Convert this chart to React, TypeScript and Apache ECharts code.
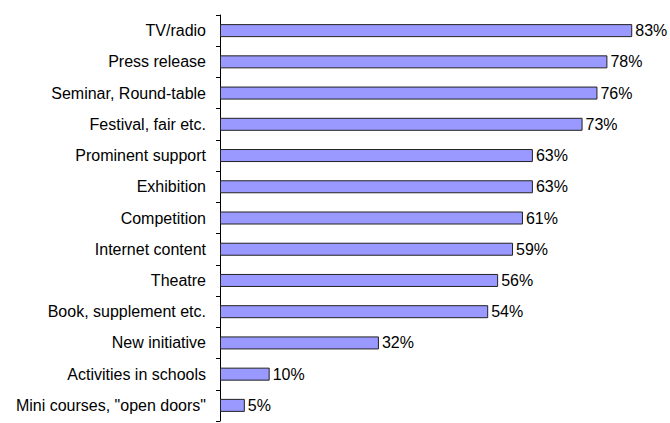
import React, { useEffect, useRef } from "react";
import * as echarts from "echarts";

const categories = [
  "TV/radio",
  "Press release",
  "Seminar, Round-table",
  "Festival, fair etc.",
  "Prominent support",
  "Exhibition",
  "Competition",
  "Internet content",
  "Theatre",
  "Book, supplement etc.",
  "New initiative",
  "Activities in schools",
  'Mini courses, "open doors"',
];
const values = [83, 78, 76, 73, 63, 63, 61, 59, 56, 54, 32, 10, 5];

export default function App() {
  const ref = useRef<HTMLDivElement>(null);
  useEffect(() => {
    document.body.style.margin = "0";
    const chart = echarts.init(ref.current!, null, { renderer: "svg" });
    chart.setOption({
      animation: false,
      grid: { left: 220, top: 15, width: 447, bottom: 2, containLabel: false },
      xAxis: {
        type: "value",
        min: 0,
        max: 90,
        show: false,
        splitLine: { show: false },
      },
      yAxis: {
        type: "category",
        data: categories,
        inverse: true,
        axisLine: { show: true, lineStyle: { color: "#000", width: 1 } },
        axisTick: { show: true, length: 4, lineStyle: { color: "#000" } },
        axisLabel: {
          margin: 14,
          color: "#000",
          fontFamily: "Liberation Sans, Arial, sans-serif",
          fontSize: 16,
        },
      },
      series: [
        {
          type: "bar",
          data: values,
          barWidth: 13,
          itemStyle: { color: "#9999FF", borderColor: "#222", borderWidth: 1 },
          label: {
            show: true,
            position: "right",
            distance: 3,
            formatter: "{c}%",
            color: "#000",
            fontFamily: "Liberation Sans, Arial, sans-serif",
            fontSize: 16,
          },
        },
      ],
    });
    return () => chart.dispose();
  }, []);
  return <div ref={ref} style={{ width: 670, height: 423 }} />;
}
